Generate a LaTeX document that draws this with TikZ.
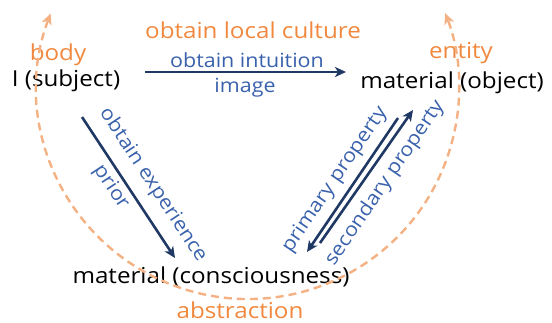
\documentclass[tikz,border=0pt]{standalone}
\usepackage{fontspec}
\setmainfont{Open Sans}[FakeStretch=1.1]
\usetikzlibrary{arrows.meta}
\definecolor{labelorange}{HTML}{F0893F}
\definecolor{arcorange}{HTML}{F4B183}
\definecolor{labelblue}{HTML}{3A62AC}
\definecolor{arrownavy}{HTML}{203864}
\begin{document}
\begin{tikzpicture}[x=1bp,y=-1bp,
  big/.style={font=\fontsize{22bp}{26bp}\selectfont, inner sep=0pt, anchor=base},
  small/.style={font=\fontsize{19.5bp}{23bp}\selectfont, inner sep=0pt, text=labelblue},
  term/.style={big, text=black},
  hint/.style={big, text=labelorange},
  flow/.style={draw=arrownavy, line width=2.6bp, -{Stealth[length=11bp,width=10bp,inset=3bp]}},
  loop/.style={draw=arcorange, line width=2.4bp, dash pattern=on 8bp off 5bp,
    {Stealth[length=11bp,width=10bp,inset=3bp]}-{Stealth[length=11bp,width=10bp,inset=3bp]}}]
\useasboundingbox (0,0) rectangle (552,322);

% the three terms (placed by baseline)
\node[term] (subj) at (66,86) {I (subject)};
\node[term] (obj) at (452,88) {material (object)};
\node[term] (cons) at (211,283) {material (consciousness)};

% orange captions
\node[hint] (body) at (58,60) {body};
\node[hint] (entity) at (461,58) {entity};
\node[hint] (culture) at (253,38) {obtain local culture};
\node[hint] (abstr) at (240,318) {abstraction};

% end points of the arrows
\coordinate (h1) at (145,72);
\coordinate (h2) at (346,72);
\coordinate (e1) at (82,117);
\coordinate (e2) at (175,258);
\coordinate (p1) at (398,118);
\coordinate (p2) at (307,252);
\coordinate (s1) at (320,243);
\coordinate (s2) at (413,110);

\draw[flow] (h1) -- (h2);
\draw[flow] (e1) -- (e2);
\draw[flow] (p1) -- (p2);
\draw[flow] (s1) -- (s2);

% blue arrow labels
\node[small, anchor=base] (intu) at (247,67) {obtain intuition};
\node[small, anchor=base] (img) at (245,92) {image};
\node[small, rotate=-56.6] (exper) at (153,185) {obtain experience};
\node[small, rotate=-56.6] (prior) at (111,187) {prior};
\node[small, rotate=55.7] (prim) at (335,180) {primary property};
\node[small, rotate=55.7] (sec) at (385,183) {secondary property};

% dashed return loop
\draw[loop] (248,88) ++(200.7:211) arc[start angle=200.7, end angle=-20.8, radius=211];
\end{tikzpicture}
\end{document}
